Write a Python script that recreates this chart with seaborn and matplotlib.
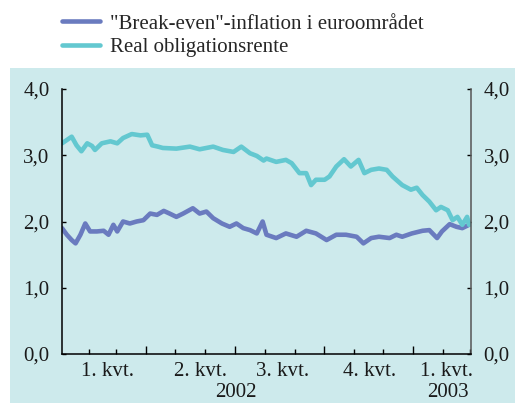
import numpy as np
import pandas as pd
import matplotlib
matplotlib.use('Agg')
import matplotlib.pyplot as plt
import matplotlib.dates as mdates
import matplotlib.transforms as mtransforms
from matplotlib.patches import Rectangle
import seaborn as sns


# Data (per cent)

breakeven_dates = ['2002-01-04', '2002-01-09', '2002-01-14', '2002-01-18', '2002-01-23',
                   '2002-01-28', '2002-02-02', '2002-02-09', '2002-02-16', '2002-02-21',
                   '2002-02-26', '2002-03-02', '2002-03-08', '2002-03-15', '2002-03-22',
                   '2002-03-29', '2002-04-05', '2002-04-12', '2002-04-19', '2002-04-25',
                   '2002-05-02', '2002-05-09', '2002-05-19', '2002-05-26', '2002-06-02',
                   '2002-06-09', '2002-06-18', '2002-06-26', '2002-07-03', '2002-07-10',
                   '2002-07-17', '2002-07-24', '2002-07-30', '2002-08-03', '2002-08-13',
                   '2002-08-23', '2002-09-03', '2002-09-13', '2002-09-23', '2002-10-04',
                   '2002-10-14', '2002-10-24', '2002-11-04', '2002-11-11', '2002-11-19',
                   '2002-11-27', '2002-12-08', '2002-12-15', '2002-12-21', '2002-12-31',
                   '2003-01-11', '2003-01-18', '2003-01-26', '2003-01-31', '2003-02-08',
                   '2003-02-15', '2003-02-21', '2003-02-28']
breakeven_values = [1.90, 1.80, 1.72, 1.67, 1.80,
                    1.97, 1.85, 1.85, 1.86, 1.80,
                    1.95, 1.85, 2.00, 1.97, 2.00,
                    2.02, 2.12, 2.10, 2.16, 2.12,
                    2.07, 2.12, 2.20, 2.12, 2.15,
                    2.05, 1.97, 1.92, 1.97, 1.90,
                    1.87, 1.82, 2.00, 1.80, 1.75,
                    1.82, 1.77, 1.86, 1.82, 1.72,
                    1.80, 1.80, 1.77, 1.67, 1.75,
                    1.77, 1.75, 1.80, 1.77, 1.82,
                    1.86, 1.87, 1.75, 1.85, 1.96,
                    1.92, 1.90, 1.95]

real_dates = ['2002-01-04', '2002-01-14', '2002-01-19', '2002-01-24', '2002-01-30',
              '2002-02-04', '2002-02-07', '2002-02-14', '2002-02-23', '2002-03-02',
              '2002-03-08', '2002-03-17', '2002-03-26', '2002-04-02', '2002-04-07',
              '2002-04-13', '2002-04-18', '2002-05-02', '2002-05-16', '2002-05-26',
              '2002-06-09', '2002-06-19', '2002-06-30', '2002-07-08', '2002-07-17',
              '2002-07-24', '2002-07-31', '2002-08-03', '2002-08-13', '2002-08-23',
              '2002-08-29', '2002-09-06', '2002-09-13', '2002-09-18', '2002-09-23',
              '2002-10-02', '2002-10-07', '2002-10-14', '2002-10-22', '2002-10-29',
              '2002-11-06', '2002-11-12', '2002-11-19', '2002-11-27', '2002-12-05',
              '2002-12-11', '2002-12-21', '2002-12-30', '2003-01-05', '2003-01-11',
              '2003-01-18', '2003-01-25', '2003-01-30', '2003-02-06', '2003-02-11',
              '2003-02-16', '2003-02-21', '2003-02-26', '2003-02-28']
real_values = [3.18, 3.28, 3.15, 3.06, 3.18,
               3.14, 3.08, 3.18, 3.21, 3.18,
               3.26, 3.32, 3.30, 3.31, 3.15,
               3.13, 3.11, 3.10, 3.13, 3.09,
               3.13, 3.08, 3.05, 3.13, 3.03,
               2.99, 2.92, 2.95, 2.90, 2.93,
               2.88, 2.73, 2.73, 2.55, 2.63,
               2.63, 2.68, 2.83, 2.94, 2.83,
               2.93, 2.73, 2.78, 2.80, 2.78,
               2.68, 2.55, 2.48, 2.51, 2.40,
               2.30, 2.17, 2.22, 2.17, 2.02,
               2.07, 1.95, 2.07, 1.95]

series_names = ['"Break-even"-inflation i euroområdet', 'Real obligationsrente']
series_colors = ['#6a7bbf', '#63c8d0']

quarter_labels = ['1. kvt.', '2. kvt.', '3. kvt.', '4. kvt.', '1. kvt.']
year_labels = ['2002', '2003']

yticks = [0.0, 1.0, 2.0, 3.0, 4.0]


# Long dataframe for seaborn

df = pd.concat([
    pd.DataFrame({'dato': pd.to_datetime(breakeven_dates), 'verdi': breakeven_values,
                  'serie': series_names[0]}),
    pd.DataFrame({'dato': pd.to_datetime(real_dates), 'verdi': real_values,
                  'serie': series_names[1]}),
])


# Chart

sns.set_theme(style='white')
plt.rcParams['font.family'] = ['Liberation Serif', 'DejaVu Serif']

bg = '#cdeaec'
fs = 15
fig = plt.figure(figsize=(5.15, 4.03), dpi=100)
fig.patches.append(Rectangle((10 / 515, 0), 505 / 515, 1 - 68 / 403,
                             transform=fig.transFigure, facecolor=bg,
                             edgecolor='none', zorder=-10))

ax = fig.add_axes([62 / 515, 1 - 354 / 403, (471 - 62) / 515, (354 - 89) / 403])
ax.set_facecolor('none')
ax.set_zorder(5)

sns.lineplot(data=df, x='dato', y='verdi', hue='serie', hue_order=series_names,
             palette=series_colors, linewidth=3.3, ax=ax, legend=False)

ax.set_xlim(pd.Timestamp('2002-01-04'), pd.Timestamp('2003-03-02'))
ax.set_ylim(0, 4)
ax.set_xlabel('')
ax.set_ylabel('')

# y axis on both sides
ax.set_yticks(yticks)
ax.set_yticklabels([f'{v:.1f}'.replace('.', ',') for v in yticks])
ax.tick_params(axis='y', left=True, right=True, labelleft=True, labelright=True,
               direction='in', length=3, width=1, color='black',
               labelsize=fs, pad=9)

# x axis: quarter ticks long, month ticks short, text between
ax.xaxis.set_major_locator(mdates.MonthLocator(bymonth=[1, 4, 7, 10]))
ax.xaxis.set_minor_locator(mdates.MonthLocator())
ax.xaxis.set_major_formatter(plt.NullFormatter())
ax.tick_params(axis='x', which='major', bottom=True, direction='in', length=6,
               width=1, color='black')
ax.tick_params(axis='x', which='minor', bottom=True, direction='in', length=3.5,
               width=1, color='black')

ax.spines['top'].set_visible(False)
for s in ['left', 'bottom']:
    ax.spines[s].set_color('black')
    ax.spines[s].set_linewidth(1.1)
ax.spines['right'].set_color('#555555')
ax.spines['right'].set_linewidth(1.1)

trans = mtransforms.blended_transform_factory(ax.transData, ax.transAxes)
q_pos = ['2002-02-20', '2002-05-27', '2002-08-20', '2002-11-17', '2003-02-05']
for lab, d in zip(quarter_labels, q_pos):
    ax.text(mdates.date2num(pd.Timestamp(d)), -0.03, lab, transform=trans,
            ha='center', va='top', fontsize=fs, color='#1a1a1a')
y_pos = ['2002-07-02', '2003-02-06']
for lab, d in zip(year_labels, y_pos):
    ax.text(mdates.date2num(pd.Timestamp(d)), -0.108, lab, transform=trans,
            ha='center', va='top', fontsize=fs, color='#1a1a1a')

for lab in ax.get_yticklabels():
    lab.set_color('#1a1a1a')

# Legend above the plot area
handles = [plt.Line2D([], [], color=c, linewidth=3.3) for c in series_colors]
fig.legend(handles, series_names, loc='upper left',
           bbox_to_anchor=(62 / 515, 1 - 14 / 403), frameon=False,
           fontsize=fs, handlelength=1.8, handletextpad=0.5,
           labelspacing=0.2, borderaxespad=0, borderpad=0)

fig.savefig('out.png', dpi=100, facecolor='white')
